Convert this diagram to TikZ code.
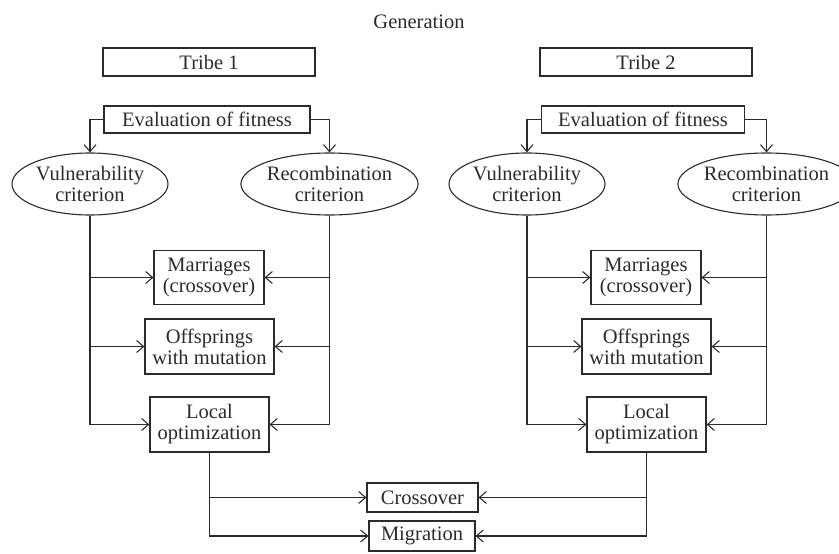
\documentclass[tikz,border=0pt]{standalone}
\usepackage{fontspec}
\setmainfont{Liberation Serif}
\usetikzlibrary{shapes.geometric,arrows.meta}
\definecolor{ink}{HTML}{2B2B2B}
\begin{document}
\begin{tikzpicture}[x=1pt,y=-1pt,
  every node/.style={text=ink,font=\fontsize{20.5}{21}\selectfont,align=center,inner sep=0pt},
  box/.style={draw=ink,line width=1.1pt,rectangle},
  oval/.style={draw=ink,line width=1.1pt,ellipse},
  ln/.style={draw=ink,line width=1.1pt},
  arr/.style={ln,-{Straight Barb[length=7pt,width=12pt]}}]
\useasboundingbox (0,0) rectangle (839,554);
\node (gen) at (419,22) {Generation};
% Tribe 1
\node[box,minimum width=212pt,minimum height=28pt] (tribe1) at (209,62) {Tribe 1};
\node[box,minimum width=206pt,minimum height=27pt] (eval1) at (207,119.5) {Evaluation of fitness};
\node[oval,minimum width=156pt,minimum height=62pt] (vul1) at (90,184) {Vulnerability\\criterion};
\node[oval,minimum width=155pt,minimum height=62pt] (rec1) at (329.5,184) {Recombination\\criterion};
\node[box,minimum width=110pt,minimum height=54pt] (mar1) at (209,277.5) {Marriages\\(crossover)};
\node[box,minimum width=129pt,minimum height=55pt] (off1) at (209.5,346.5) {Offsprings\\with mutation};
\node[box,minimum width=119pt,minimum height=55pt] (loc1) at (209.5,424.5) {Local\\optimization};
% Tribe 2
\node[box,minimum width=212pt,minimum height=28pt] (tribe2) at (646,62) {Tribe 2};
\node[box,minimum width=203pt,minimum height=27pt] (eval2) at (643,119.5) {Evaluation of fitness};
\node[oval,minimum width=156pt,minimum height=62pt] (vul2) at (527,184) {Vulnerability\\criterion};
\node[oval,minimum width=155pt,minimum height=62pt] (rec2) at (766.5,184) {Recombination\\criterion};
\node[box,minimum width=110pt,minimum height=54pt] (mar2) at (646,277.5) {Marriages\\(crossover)};
\node[box,minimum width=129pt,minimum height=55pt] (off2) at (646.5,346.5) {Offsprings\\with mutation};
\node[box,minimum width=119pt,minimum height=55pt] (loc2) at (646.5,424.5) {Local\\optimization};
% Bottom
\node[box,minimum width=111pt,minimum height=29pt] (cross) at (422.5,497.5) {Crossover};
\node[box,minimum width=106pt,minimum height=30pt] (migr) at (422,536) {Migration};
% connectors tribes
\foreach \t in {1,2}{
  \draw[arr] (eval\t.west) -| (vul\t.north);
  \draw[arr] (eval\t.east) -| (rec\t.north);
  \draw[arr] (vul\t.south) |- (loc\t.west);
  \draw[arr] (vul\t.south |- mar\t.west) -- (mar\t.west);
  \draw[arr] (vul\t.south |- off\t.west) -- (off\t.west);
  \draw[arr] (rec\t.south) |- (loc\t.east);
  \draw[arr] (rec\t.south |- mar\t.east) -- (mar\t.east);
  \draw[arr] (rec\t.south |- off\t.east) -- (off\t.east);
}
\draw[arr] (loc1.south) |- (migr.west);
\draw[arr] (loc1.south |- cross.west) -- (cross.west);
\draw[arr] (loc2.south) |- (migr.east);
\draw[arr] (loc2.south |- cross.east) -- (cross.east);
\end{tikzpicture}
\end{document}
